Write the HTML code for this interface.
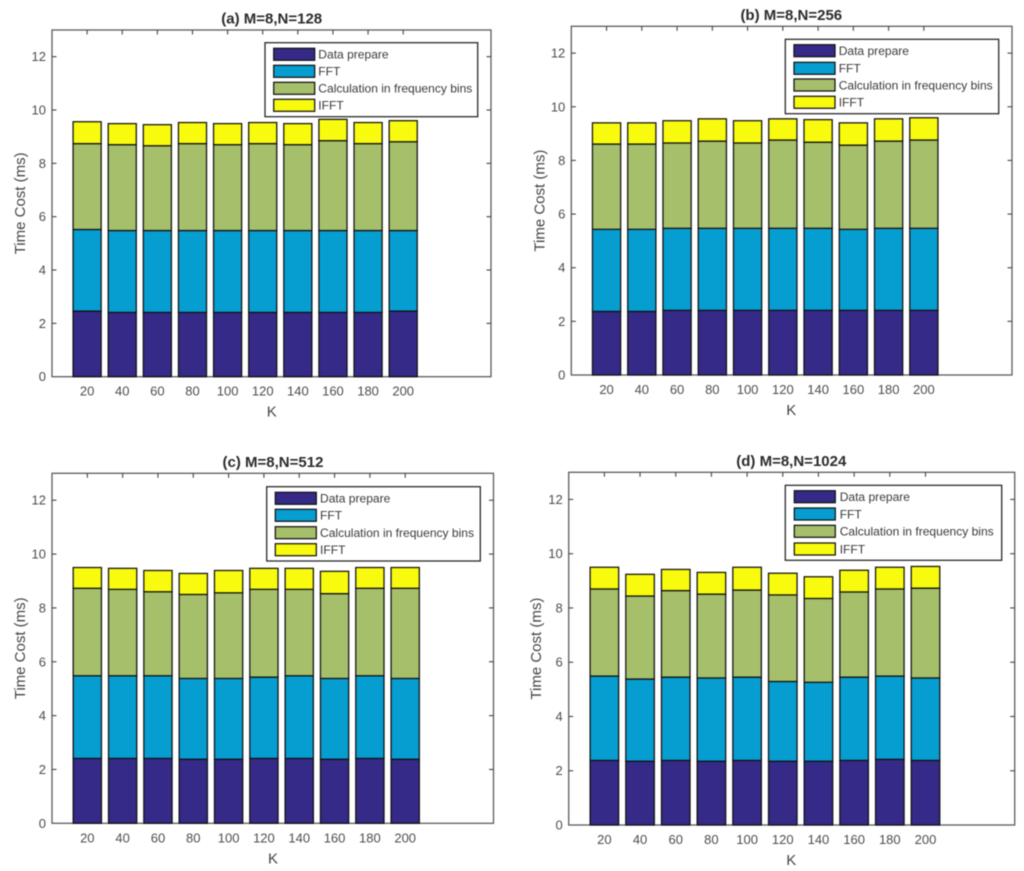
<!DOCTYPE html>
<html lang="en">
<head>
<meta charset="utf-8">
<title>Time cost stacked bars</title>
<style>
html,body{margin:0;padding:0;background:#fff;width:1024px;height:871px;overflow:hidden}
svg{display:block;filter:blur(0.45px)}
text{font-family:"Liberation Sans",sans-serif}
</style>
</head>
<body>
<svg id="figure" width="1024" height="871" viewBox="0 0 1024 871" xmlns="http://www.w3.org/2000/svg"></svg>
<script>
const categories = [20, 40, 60, 80, 100, 120, 140, 160, 180, 200];
const yTickValues = [0, 2, 4, 6, 8, 10, 12];
const seriesNames = ['Data prepare', 'FFT', 'Calculation in frequency bins', 'IFFT'];

const prepareA = [2.46, 2.41, 2.41, 2.41, 2.41, 2.41, 2.41, 2.41, 2.41, 2.46];
const fftA = [3.06, 3.07, 3.07, 3.07, 3.07, 3.07, 3.07, 3.07, 3.07, 3.02];
const calcA = [3.22, 3.22, 3.18, 3.26, 3.22, 3.26, 3.22, 3.37, 3.26, 3.33];
const ifftA = [0.82, 0.79, 0.79, 0.79, 0.79, 0.79, 0.79, 0.80, 0.79, 0.79];

const prepareB = [2.37, 2.37, 2.41, 2.41, 2.41, 2.41, 2.41, 2.41, 2.41, 2.41];
const fftB = [3.06, 3.06, 3.06, 3.06, 3.06, 3.06, 3.06, 3.02, 3.06, 3.06];
const calcB = [3.18, 3.18, 3.18, 3.25, 3.18, 3.29, 3.21, 3.14, 3.25, 3.29];
const ifftB = [0.79, 0.79, 0.83, 0.83, 0.83, 0.79, 0.84, 0.83, 0.83, 0.83];

const prepareC = [2.41, 2.41, 2.41, 2.38, 2.38, 2.41, 2.41, 2.38, 2.41, 2.38];
const fftC = [3.07, 3.07, 3.07, 3.00, 3.00, 3.02, 3.07, 3.00, 3.07, 3.00];
const calcC = [3.25, 3.21, 3.12, 3.12, 3.18, 3.26, 3.21, 3.15, 3.25, 3.35];
const ifftC = [0.77, 0.78, 0.79, 0.78, 0.83, 0.78, 0.78, 0.83, 0.77, 0.77];

const prepareD = [2.38, 2.35, 2.38, 2.35, 2.38, 2.35, 2.35, 2.38, 2.42, 2.38];
const fftD = [3.11, 3.03, 3.07, 3.07, 3.07, 2.94, 2.91, 3.07, 3.07, 3.04];
const calcD = [3.21, 3.06, 3.19, 3.09, 3.21, 3.19, 3.09, 3.14, 3.21, 3.31];
const ifftD = [0.80, 0.80, 0.78, 0.80, 0.84, 0.80, 0.80, 0.80, 0.80, 0.80];

const seriesColors = ['#352a87', '#069dd1', '#a5bf6b', '#f9fb0e'];
const Y_MAX = 13;
const X_MAX = 12.5;
const BAR_WIDTH = 0.8;

const panels = [
  {key:'a', title:'(a) M=8,N=128', series:[prepareA, fftA, calcA, ifftA],
   L:52, R:491, T:30, B:376.7, ylabelX:19, titleX:271.7, kX:271.7,
   box:[265, 42.7, 212.7, 74], swatchX:273.7, textX:318.3, rowY:[54.3, 71.3, 88.3, 105.3]},
  {key:'b', title:'(b) M=8,N=256', series:[prepareB, fftB, calcB, ifftB],
   L:571.3, R:1012, T:26.3, B:375, ylabelX:538.5, titleX:791.3, kX:791.3,
   box:[785.3, 39.3, 213.4, 74.4], swatchX:794, textX:838.7, rowY:[50.7, 68.3, 85, 102.3]},
  {key:'c', title:'(c) M=8,N=512', series:[prepareC, fftC, calcC, ifftC],
   L:52, R:493.5, T:473.3, B:823.3, ylabelX:19, titleX:273, kX:273,
   box:[266.7, 486.7, 213.6, 74.3], swatchX:275.3, textX:320, rowY:[498.3, 515.3, 532.7, 549.7]},
  {key:'d', title:'(d) M=8,N=1024', series:[prepareD, fftD, calcD, ifftD],
   L:568.7, R:1014.7, T:472.3, B:825, ylabelX:535, titleX:791.3, kX:791.3,
   box:[785.3, 485.3, 216.4, 75], swatchX:794.3, textX:839.7, rowY:[496.7, 514, 531.3, 549]}
];

const root = document.getElementById('figure');
const NS = 'http://www.w3.org/2000/svg';

function make(parent, tag, attrs, content) {
  const el = document.createElementNS(NS, tag);
  for (const k in attrs) el.setAttribute(k, attrs[k]);
  if (content !== undefined) el.textContent = content;
  parent.appendChild(el);
  return el;
}

panels.forEach(function (p) {
  const xScale = function (v) { return p.L + v * (p.R - p.L) / X_MAX; };
  const yScale = function (v) { return p.B - v * (p.B - p.T) / Y_MAX; };

  const g = make(root, 'g', {});
  
  

  const frame = make(g, 'rect', {x:p.L, y:p.T, width:p.R - p.L, height:p.B - p.T, fill:'#fff', stroke:'#5c5c5c', 'stroke-width':1.3});
  
  

  const title = make(g, 'text', {x:p.titleX, y:p.T - 6.5, 'text-anchor':'middle', 'font-size':15, 'font-weight':'bold', fill:'#2b2b2b'}, p.title);
  
  

  const yTitle = make(g, 'text', {x:0, y:0, 'text-anchor':'middle', 'font-size':15, fill:'#444',
    transform:'translate(' + (p.ylabelX + 6) + ',' + ((p.T + p.B) / 2) + ') rotate(-90)'}, 'Time Cost (ms)');
  
  

  const xTitle = make(g, 'text', {x:p.kX, y:p.B + 40, 'text-anchor':'middle', 'font-size':15, fill:'#444'}, 'K');
  
  

  yTickValues.forEach(function (t) {
    const y = yScale(t);
    const label = make(g, 'text', {x:p.L - 6, y:y + 4.5, 'text-anchor':'end', 'font-size':13, fill:'#4d4d4d'}, String(t));
    
    
    if (t === 0) return;
    const left = make(g, 'line', {x1:p.L, x2:p.L + 4.5, y1:y, y2:y, stroke:'#444', 'stroke-width':1.1});
    
    
    const right = make(g, 'line', {x1:p.R - 4.5, x2:p.R, y1:y, y2:y, stroke:'#444', 'stroke-width':1.1});
    
    
  });

  categories.forEach(function (c, i) {
    const cx = xScale(i + 1);
    const tick = make(g, 'line', {x1:cx, x2:cx, y1:p.T, y2:p.T + 4.5, stroke:'#444', 'stroke-width':1.1});
    
    
    const label = make(g, 'text', {x:cx, y:p.B + 19, 'text-anchor':'middle', 'font-size':13, fill:'#4d4d4d'}, String(c));
    
    

    const barW = BAR_WIDTH * (xScale(1) - xScale(0));
    let base = 0;
    p.series.forEach(function (values, s) {
      const top = base + values[i];
      const seg = make(g, 'rect', {x:cx - barW / 2, y:yScale(top), width:barW, height:yScale(base) - yScale(top),
        fill:seriesColors[s], stroke:'#111', 'stroke-width':1.25});
      
      
      base = top;
    });
  });

  const legend = make(g, 'g', {});
  
  
  const lb = make(legend, 'rect', {x:p.box[0], y:p.box[1], width:p.box[2], height:p.box[3], fill:'#fff', stroke:'#222', 'stroke-width':1.25});
  
  
  seriesNames.forEach(function (name, s) {
    const sw = make(legend, 'rect', {x:p.swatchX, y:p.rowY[s] - 6, width:41, height:12, fill:seriesColors[s], stroke:'#111', 'stroke-width':1.25});
    
    
    const tx = make(legend, 'text', {x:p.textX, y:p.rowY[s] + 4.3, 'font-size':12.05, fill:'#3a3a3a'}, name);
    
    
  });
});
</script>
</body>
</html>
